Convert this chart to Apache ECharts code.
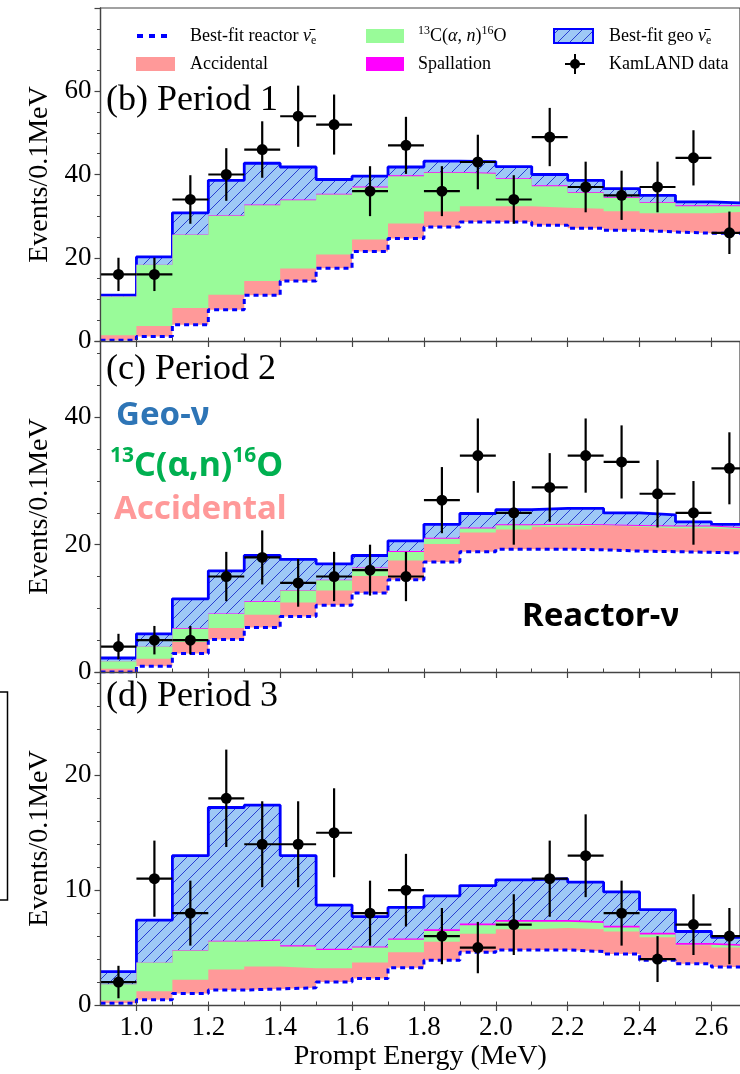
<!DOCTYPE html>
<html>
<head>
<meta charset="utf-8">
<script src="https://cdn.jsdelivr.net/npm/echarts@6/dist/echarts.min.js"></script>
<style>
  html, body { margin: 0; padding: 0; background: #fff; }
  #chart { width: 740px; height: 1074px; }
</style>
</head>
<body>
<div id="chart"></div>
<script>
// Energy binning (MeV), 0.1 MeV bins
const binEdges = [0.9, 1.0, 1.1, 1.2, 1.3, 1.4, 1.5, 1.6, 1.7, 1.8, 1.9, 2.0, 2.1, 2.2, 2.3, 2.4, 2.5, 2.6, 2.7];
const binCenters = [0.95, 1.05, 1.15, 1.25, 1.35, 1.45, 1.55, 1.65, 1.75, 1.85, 1.95, 2.05, 2.15, 2.25, 2.35, 2.45, 2.55, 2.65];
const xTickValues = [1.0, 1.2, 1.4, 1.6, 1.8, 2.0, 2.2, 2.4, 2.6];

// Period 1: cumulative levels of the stacked expectation (events / 0.1 MeV)
const p1Reactor       = [0.2, 1.1, 3.9, 7.5, 11.0, 14.4, 17.5, 21.5, 24.6, 27.4, 28.6, 28.6, 27.8, 27.1, 26.6, 26.2, 25.9, 25.9];
const p1AccidentalTop = [1.4, 3.6, 7.9, 11.1, 14.4, 17.4, 20.8, 24.4, 28.2, 31.1, 32.4, 32.4, 32.0, 31.8, 31.2, 30.7, 30.7, 31.1];
const p1AlphaNTop     = [10.7, 18.3, 25.6, 30.2, 32.8, 34.0, 35.4, 37.1, 39.8, 40.6, 40.4, 39.1, 37.4, 35.8, 34.6, 33.4, 32.6, 32.6];
const p1Spallation    = [0, 0, 0.1, 0.1, 0.2, 0.2, 0.2, 0.2, 0.2, 0.2, 0.2, 0.2, 0.2, 0.2, 0.2, 0.2, 0.2, 0.2];
const p1GeoTop        = [11.0, 20.2, 30.8, 38.6, 42.7, 41.8, 38.8, 39.6, 41.8, 43.2, 43.1, 41.9, 40.0, 38.6, 36.6, 35.0, 33.4, 33.1];
const p1Data          = [16, 16, 34, 40, 46, 54, 52, 36, 47, 36, 43, 34, 49, 37, 35, 37, 44, 26];

// Period 2
const p2Reactor       = [0.0, 0.9, 2.9, 5.1, 7.0, 8.7, 10.5, 12.4, 14.5, 17.3, 18.9, 19.3, 19.3, 19.2, 19.0, 18.9, 18.8, 18.7];
const p2AccidentalTop = [0.5, 2.1, 4.7, 6.9, 9.0, 10.9, 12.8, 15.1, 17.5, 20.1, 21.9, 22.4, 22.8, 23.0, 22.8, 22.6, 22.6, 22.4];
const p2AlphaNTop     = [1.7, 4.0, 6.9, 9.2, 11.1, 12.9, 14.5, 16.4, 19.0, 21.1, 22.7, 23.2, 23.3, 23.2, 23.1, 23.0, 23.0, 22.7];
const p2Spallation    = [0, 0, 0.1, 0.1, 0.1, 0.1, 0.1, 0.1, 0.15, 0.15, 0.15, 0.15, 0.15, 0.15, 0.15, 0.15, 0.15, 0.15];
const p2GeoTop        = [2.2, 6.0, 11.5, 15.9, 18.3, 17.7, 17.0, 18.3, 20.6, 23.2, 24.9, 25.5, 25.7, 25.7, 25.0, 24.7, 23.6, 23.2];
const p2Data          = [4, 5, 5, 15, 18, 14, 15, 16, 15, 27, 34, 25, 29, 34, 33, 28, 25, 32];

// Period 3
const p3Reactor       = [0.15, 0.45, 1.0, 1.3, 1.4, 1.5, 2.0, 2.3, 3.25, 3.9, 4.6, 4.8, 4.8, 4.65, 4.45, 3.9, 3.6, 3.3];
const p3AccidentalTop = [0.4, 1.2, 2.2, 3.1, 3.35, 3.2, 3.2, 3.7, 4.6, 5.5, 6.2, 6.6, 6.7, 6.6, 6.4, 5.9, 5.2, 5.0];
const p3AlphaNTop     = [1.8, 3.7, 4.8, 5.6, 5.7, 5.2, 4.9, 5.1, 5.8, 6.6, 7.1, 7.4, 7.4, 7.3, 6.9, 6.3, 5.4, 5.25];
const p3Spallation    = [0, 0, 0.05, 0.08, 0.1, 0.1, 0.1, 0.1, 0.12, 0.15, 0.15, 0.15, 0.15, 0.15, 0.15, 0.15, 0.15, 0.12];
const p3GeoTop        = [2.9, 7.4, 13.0, 17.2, 17.4, 13.0, 8.7, 7.7, 8.5, 9.5, 10.4, 10.9, 11.0, 10.7, 9.85, 8.3, 6.4, 5.9];
const p3Data          = [2, 11, 8, 18, 14, 14, 15, 8, 10, 6, 5, 7, 11, 13, 8, 4, 7, 6];

const panelTitles = ['(b) Period 1', '(c) Period 2', '(d) Period 3'];
const yMaxima = [80, 52, 29];
const yMajorSteps = [20, 20, 10];
const yMinorSplits = [4, 4, 5];

const panels = [
  { reactor: p1Reactor, accTop: p1AccidentalTop, anTop: p1AlphaNTop, spall: p1Spallation, geoTop: p1GeoTop, data: p1Data },
  { reactor: p2Reactor, accTop: p2AccidentalTop, anTop: p2AlphaNTop, spall: p2Spallation, geoTop: p2GeoTop, data: p2Data },
  { reactor: p3Reactor, accTop: p3AccidentalTop, anTop: p3AlphaNTop, spall: p3Spallation, geoTop: p3GeoTop, data: p3Data }
];

const SERIF = "'Liberation Serif', 'Times New Roman', serif";
const SANS = "'Noto Sans', 'Open Sans', sans-serif";
const XMIN = 0.9, XMAX = 2.6795;
const AXIS_COLOR = '#444';
const COL = { reactor: '#0000ff', acc: '#ff9999', an: '#99fb99', spall: '#ff00ff', geoLine: '#0000ff' };

// diagonal hatch tile for the geo-neutrino component
function hatchCanvas(size) {
  const c = document.createElement('canvas');
  c.width = c.height = size;
  const g = c.getContext('2d');
  g.fillStyle = '#9ec8f6';
  g.fillRect(0, 0, size, size);
  g.strokeStyle = '#2a3fd0';
  g.lineWidth = 1;
  g.beginPath();
  g.moveTo(0, size); g.lineTo(size, 0);
  g.moveTo(-1, 1); g.lineTo(1, -1);
  g.moveTo(size - 1, size + 1); g.lineTo(size + 1, size - 1);
  g.stroke();
  return c;
}
const hatch = hatchCanvas(12);
const hatchFill = { image: hatch, repeat: 'repeat' };

// histogram outline: value of bin i held from edge i to edge i+1
function stepPoints(vals) {
  return binEdges.map((x, i) => [x, vals[Math.min(i, vals.length - 1)]]);
}

const gridBoxes = [{ top: 8, height: 333 }, { top: 341, height: 331 }, { top: 672, height: 333 }];
const grid = gridBoxes.map(b => ({
  left: 100.5, width: 641.5, top: b.top, height: b.height,
  show: true, borderColor: AXIS_COLOR, borderWidth: 1.2, backgroundColor: 'transparent'
}));

const xAxis = [];
const yAxis = [];
const series = [];

panels.forEach((p, k) => {
  const last = k === panels.length - 1;
  // major x ticks (labelled on the bottom panel)
  xAxis.push({
    gridIndex: k, type: 'value', min: XMIN, max: XMAX, z: 10,
    axisLine: { show: true, onZero: false, lineStyle: { color: AXIS_COLOR, width: 1.3 } },
    axisTick: { show: true, customValues: xTickValues, length: 6, lineStyle: { color: AXIS_COLOR, width: 1.2 } },
    axisLabel: {
      show: last, customValues: xTickValues, margin: 9,
      formatter: v => v.toFixed(1), fontFamily: SERIF, fontSize: 27, color: '#000'
    },
    splitLine: { show: false },
    name: last ? 'Prompt Energy (MeV)' : '', nameLocation: 'middle', nameGap: 38,
    nameTextStyle: { fontFamily: SERIF, fontSize: 28, color: '#000' }
  });
  // minor x ticks every 0.1 MeV
  xAxis.push({
    gridIndex: k, type: 'value', min: XMIN, max: XMAX, interval: 0.1, z: 10,
    axisLine: { show: false }, axisLabel: { show: false }, splitLine: { show: false },
    axisTick: { show: true, length: 3.5, lineStyle: { color: AXIS_COLOR, width: 1 } }
  });
  yAxis.push({
    gridIndex: k, type: 'value', min: 0, max: yMaxima[k], interval: yMajorSteps[k], z: 10,
    axisLine: { show: true, lineStyle: { color: AXIS_COLOR, width: 1.3 } },
    axisTick: { show: true, length: 6, lineStyle: { color: AXIS_COLOR, width: 1.2 } },
    minorTick: { show: true, splitNumber: yMinorSplits[k], length: 3.5, lineStyle: { color: AXIS_COLOR, width: 1 } },
    axisLabel: { showMaxLabel: false, margin: 9, fontFamily: SERIF, fontSize: 27, color: '#000' },
    splitLine: { show: false }, minorSplitLine: { show: false },
    name: 'Events/0.1MeV', nameLocation: 'middle', nameGap: 47, nameRotate: 90,
    nameTextStyle: { fontFamily: SERIF, fontSize: 28, color: '#000' }
  });

  // Each cumulative level is filled down to zero; higher levels sit further back,
  // so every band shows only between its own level and the one below it.
  const alphaNOnly = p.anTop.map((t, i) => +(t - p.spall[i]).toFixed(3));
  const base = {
    type: 'line', step: 'end', xAxisIndex: 2 * k, yAxisIndex: k,
    symbol: 'none', showSymbol: false, silent: true, animation: false, clip: true
  };
  const noLine = { width: 0, opacity: 0 };
  series.push(Object.assign({}, base, {
    name: 'Best-fit geo', data: stepPoints(p.geoTop), z: 2,
    lineStyle: { color: COL.geoLine, width: 2.8 },
    areaStyle: { color: hatchFill, opacity: 1, origin: 'start' }
  }));
  series.push(Object.assign({}, base, {
    name: 'Spallation', data: stepPoints(p.anTop), z: 3, lineStyle: noLine,
    areaStyle: { color: COL.spall, opacity: 1, origin: 'start' }
  }));
  series.push(Object.assign({}, base, {
    name: '13C(a,n)16O', data: stepPoints(alphaNOnly), z: 4, lineStyle: noLine,
    areaStyle: { color: COL.an, opacity: 1, origin: 'start' }
  }));
  series.push(Object.assign({}, base, {
    name: 'Accidental', data: stepPoints(p.accTop), z: 5, lineStyle: noLine,
    areaStyle: { color: COL.acc, opacity: 1, origin: 'start' }
  }));
  series.push(Object.assign({}, base, {
    name: 'Best-fit reactor', data: stepPoints(p.reactor), z: 6,
    lineStyle: { color: COL.reactor, width: 3, type: [5, 4] },
    areaStyle: { color: '#ffffff', opacity: 1, origin: 'start' }
  }));

  // data with Poisson error bars
  const pts = binCenters.map((x, i) => [x, p.data[i], Math.sqrt(p.data[i])]);
  series.push({
    type: 'custom', xAxisIndex: 2 * k, yAxisIndex: k, z: 8, silent: true, animation: false,
    data: pts, encode: { x: 0, y: 1 },
    renderItem: function (params, api) {
      const x = api.value(0), y = api.value(1), e = api.value(2);
      const lo = api.coord([x, y - e]), hi = api.coord([x, y + e]);
      const l = api.coord([x - 0.05, y]), r = api.coord([x + 0.05, y]);
      const st = { stroke: '#000', lineWidth: 2.2 };
      return {
        type: 'group', children: [
          { type: 'line', shape: { x1: lo[0], y1: lo[1], x2: hi[0], y2: hi[1] }, style: st },
          { type: 'line', shape: { x1: l[0], y1: l[1], x2: r[0], y2: r[1] }, style: st }
        ]
      };
    }
  });
  series.push({
    type: 'scatter', xAxisIndex: 2 * k, yAxisIndex: k, z: 9, silent: true, animation: false,
    data: pts.map(d => [d[0], d[1]]), symbol: 'circle', symbolSize: 11,
    itemStyle: { color: '#000', opacity: 1 }
  });
});

// legend, panel titles and annotations
const legendText = { fontFamily: SERIF, fontSize: 18, fill: '#000', verticalAlign: 'middle', lineHeight: 22 };
const legendRich = {
  it: { fontFamily: SERIF, fontSize: 18, fontStyle: 'italic', lineHeight: 22 },
  sub: { fontFamily: SERIF, fontSize: 12, verticalAlign: 'bottom', lineHeight: 12 },
  sup: { fontFamily: SERIF, fontSize: 12, verticalAlign: 'top', lineHeight: 12 }
};
function legendLabel(x, y, text) {
  return { type: 'text', x: x, y: y, z: 100, style: Object.assign({ text: text, rich: legendRich }, legendText) };
}

const bigRich = {
  sup: { fontFamily: SANS, fontSize: 21, fontWeight: 'bold', verticalAlign: 'top', lineHeight: 16, fill: '#00b050' }
};
function annotation(x, y, text, color, size) {
  return {
    type: 'text', x: x, y: y, z: 100,
    style: { text: text, fontFamily: SANS, fontSize: size, fontWeight: 'bold', fill: color, verticalAlign: 'middle', lineHeight: 40, rich: bigRich }
  };
}

const titleY = [101, 370, 697];
const graphic = [
  // legend row 1
  { type: 'line', z: 100, shape: { x1: 137, y1: 36, x2: 172, y2: 36 }, style: { stroke: COL.reactor, lineWidth: 4, lineDash: [6, 6] } },
  legendLabel(190, 36, 'Best-fit reactor {it|ν̄}{sub|e}'),
  { type: 'rect', z: 100, shape: { x: 366, y: 29, width: 38, height: 14 }, style: { fill: COL.an } },
  legendLabel(418, 36, '{sup|13}C({it|α}, {it|n}){sup|16}O'),
  { type: 'rect', z: 100, shape: { x: 554, y: 29, width: 39, height: 14 }, style: { fill: hatchFill, stroke: COL.geoLine, lineWidth: 2 } },
  legendLabel(609, 36, 'Best-fit geo {it|ν̄}{sub|e}'),
  // legend row 2
  { type: 'rect', z: 100, shape: { x: 136, y: 57, width: 39, height: 14 }, style: { fill: COL.acc } },
  legendLabel(190, 64, 'Accidental'),
  { type: 'rect', z: 100, shape: { x: 366, y: 57, width: 38, height: 14 }, style: { fill: COL.spall } },
  legendLabel(418, 64, 'Spallation'),
  { type: 'line', z: 100, shape: { x1: 565, y1: 64, x2: 585, y2: 64 }, style: { stroke: '#000', lineWidth: 2 } },
  { type: 'line', z: 100, shape: { x1: 575, y1: 54, x2: 575, y2: 74 }, style: { stroke: '#000', lineWidth: 2 } },
  { type: 'circle', z: 100, shape: { cx: 575, cy: 64, r: 5 }, style: { fill: '#000' } },
  legendLabel(609, 64, 'KamLAND data'),
  // annotations in period 2
  annotation(116, 416, 'Geo-ν', '#2e75b6', 33),
  annotation(110, 466, '{sup|13}C(α,n){sup|16}O', '#00b050', 34),
  annotation(114, 510, 'Accidental', '#ff9999', 33),
  annotation(522, 617, 'Reactor-ν', '#000000', 33),
  // neighbouring frame at the left margin
  { type: 'rect', z: 100, shape: { x: -5, y: 692, width: 12.5, height: 208 }, style: { fill: 'none', stroke: '#000', lineWidth: 1.5 } }
];
panelTitles.forEach((t, k) => {
  graphic.push({ type: 'text', x: 106, y: titleY[k], z: 100, style: { text: t, fontFamily: SERIF, fontSize: 36, fill: '#000', verticalAlign: 'middle' } });
});

const chart = echarts.init(document.getElementById('chart'), null, { renderer: 'canvas', width: 740, height: 1074 });
chart.setOption({
  animation: false,
  backgroundColor: '#fff',
  grid: grid,
  xAxis: xAxis,
  yAxis: yAxis,
  series: series,
  graphic: graphic
});
</script>
</body>
</html>
